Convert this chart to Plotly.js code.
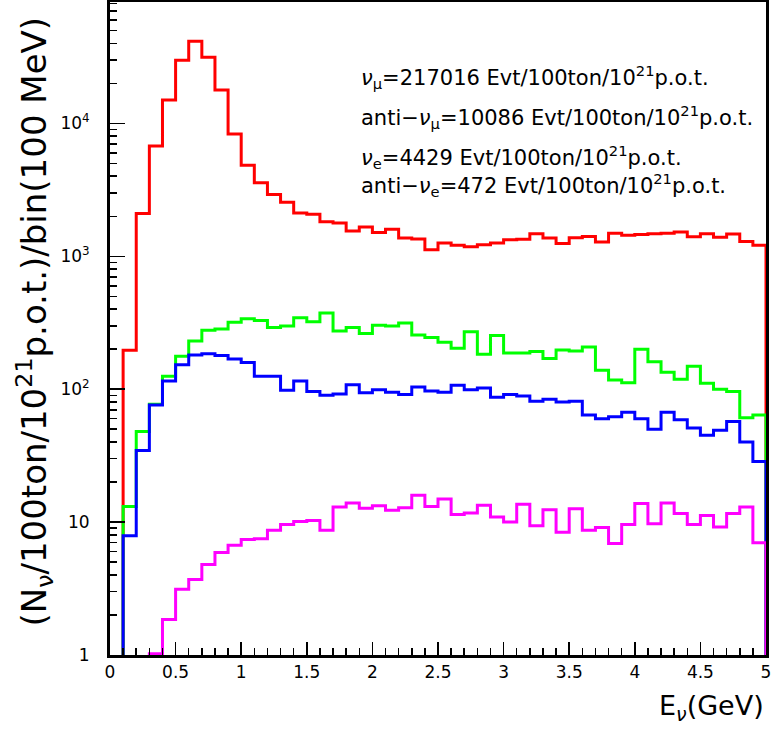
<!DOCTYPE html>
<html>
<head>
<meta charset="utf-8">
<script src="https://cdn.plot.ly/plotly-3.0.1.min.js"></script>
<style>html,body{margin:0;padding:0;background:#fff;}#chart{width:771px;height:731px;}</style>
</head>
<body>
<div id="chart"></div>
<script>
// Bin lower edges (GeV), 100 MeV bins from 0 to 5 GeV
const binWidth = 0.1;
const nBins = 50;

// nu_mu (red)
const numu = [0, 196, 2100, 6750, 14960, 29800, 41400, 31400, 17800, 8300,
  4830, 3570, 2920, 2550, 2120, 2075, 1815, 1780, 1550, 1660,
  1510, 1600, 1370, 1350, 1120, 1260, 1210, 1180, 1220, 1260,
  1330, 1340, 1480, 1370, 1250, 1380, 1410, 1280, 1490, 1440,
  1460, 1480, 1490, 1520, 1400, 1480, 1390, 1470, 1290, 1210];

// anti-nu_mu (green)
const antiNumu = [0, 13.1, 48, 77, 125, 177, 230, 277, 284, 319,
  338, 328, 291, 299, 344, 321, 375, 274, 291, 262,
  303, 299, 315, 256, 245, 225, 203, 270, 183, 253,
  187, 187, 192, 170, 197, 194, 208, 139, 117, 112,
  200, 161, 134, 119, 149, 111, 100, 96, 61, 64];

// nu_e (blue)
const nue = [0, 7.9, 34.5, 76, 115, 153, 181, 185, 179, 169,
  159, 125, 125, 98, 115, 96, 90, 92, 108, 94,
  99, 95, 91, 104, 97, 95, 107, 99, 102, 87,
  91, 89, 81, 84, 80, 81, 64, 60, 62, 67,
  60, 50, 67, 59, 51, 45, 49, 57, 40, 28.6];

// anti-nu_e (magenta)
const antiNue = [0, 0, 0, 1.02, 1.85, 3.13, 3.7, 4.8, 5.9, 6.7,
  7.4, 7.5, 8.7, 9.6, 10.1, 10.3, 8.7, 13.0, 13.9, 12.7,
  13.3, 12.3, 12.8, 15.9, 13.1, 14.9, 11.4, 11.7, 13.4, 10.9,
  10.0, 13.6, 9.4, 12.4, 8.4, 12.6, 8.7, 9.1, 6.9, 9.6,
  13.8, 9.7, 13.9, 11.6, 9.6, 11.2, 9.2, 11.6, 13.0, 7.0];

const xTickVals = [0, 0.5, 1, 1.5, 2, 2.5, 3, 3.5, 4, 4.5, 5];
const xTickText = ["0", "0.5", "1", "1.5", "2", "2.5", "3", "3.5", "4", "4.5", "5"];
const yTickVals = [1, 10, 100, 1000, 10000];
const yTickText = ["1", "10", "10<sup>2</sup>", "10<sup>3</sup>", "10<sup>4</sup>"];

const legendLines = [
  "<i>ν</i><sub>μ</sub>=217016 Evt/100ton/10<sup>21</sup>p.o.t.",
  "anti−<i>ν</i><sub>μ</sub>=10086 Evt/100ton/10<sup>21</sup>p.o.t.",
  "<i>ν</i><sub>e</sub>=4429 Evt/100ton/10<sup>21</sup>p.o.t.",
  "anti−<i>ν</i><sub>e</sub>=472 Evt/100ton/10<sup>21</sup>p.o.t."
];

const FONT = "DejaVu Sans, Liberation Sans, sans-serif";
const FLOOR = 1e-3; // empty bins drawn below the visible range

function stepTrace(vals, color, name) {
  const x = [], y = [];
  for (let k = 0; k < vals.length; k++) {
    x.push(+(k * binWidth).toFixed(3));
    y.push(vals[k] > 0 ? vals[k] : FLOOR);
  }
  x.push(nBins * binWidth); y.push(vals[vals.length - 1] > 0 ? vals[vals.length - 1] : FLOOR);
  x.push(nBins * binWidth); y.push(FLOOR);
  return {x: x, y: y, type: 'scatter', mode: 'lines', name: name,
    line: {shape: 'hv', color: color, width: 3}, hoverinfo: 'skip'};
}

const data = [
  stepTrace(numu, '#ff0000', 'nu_mu'),
  stepTrace(antiNumu, '#00ff00', 'anti-nu_mu'),
  stepTrace(nue, '#0000ff', 'nu_e'),
  stepTrace(antiNue, '#ff00ff', 'anti-nu_e')
];

const minorY = [];
for (let e = 0; e < 5; e++) for (let d = 2; d <= 9; d++) minorY.push(d * Math.pow(10, e));

const legendY = [0.885, 0.824, 0.763, 0.720];
const annotations = legendLines.map((t, i) => ({
  text: t, xref: 'paper', yref: 'paper', x: 0.38, y: legendY[i],
  xanchor: 'left', yanchor: 'middle', showarrow: false,
  font: {family: FONT, size: 21, color: 'black'}
}));
annotations.push({
  text: "(N<sub>ν</sub>/100ton/10<sup>21</sup>p.o.t.)/bin(100 MeV)",
  xref: 'paper', yref: 'paper', x: -0.115, y: 0.51, textangle: -90,
  xanchor: 'center', yanchor: 'middle', showarrow: false,
  font: {family: FONT, size: 34, color: 'black'}
});
annotations.push({
  text: "E<sub><i>ν</i></sub>(GeV)",
  xref: 'paper', yref: 'paper', x: 1.0, y: -0.08,
  xanchor: 'right', yanchor: 'middle', showarrow: false,
  font: {family: FONT, size: 27, color: 'black'}
});

const layout = {
  width: 771, height: 731,
  margin: {l: 110, r: 5, t: 2, b: 76},
  paper_bgcolor: 'white', plot_bgcolor: 'white',
  showlegend: false,
  xaxis: {
    range: [0, 5], tickmode: 'array', tickvals: xTickVals, ticktext: xTickText,
    ticks: 'inside', ticklen: 13, tickwidth: 1.5, tickcolor: 'black',
    showline: true, linewidth: 3, linecolor: 'black', mirror: true,
    showgrid: false, zeroline: false, ticklabeloverflow: 'allow',
    tickfont: {family: FONT, size: 17, color: 'black'},
    minor: {dtick: 0.1, tick0: 0, ticks: 'inside', ticklen: 7, tickwidth: 1.5, tickcolor: 'black', showgrid: false}
  },
  yaxis: {
    type: 'log', range: [0, 4.913],
    tickmode: 'array', tickvals: yTickVals, ticktext: yTickText,
    ticks: 'inside', ticklen: 15, tickwidth: 1.5, tickcolor: 'black',
    showline: true, linewidth: 3, linecolor: 'black', mirror: true,
    showgrid: false, zeroline: false, ticklabelstandoff: 14, ticklabeloverflow: 'allow',
    tickfont: {family: FONT, size: 17, color: 'black'},
    minor: {tickmode: 'array', tickvals: minorY, ticks: 'inside', ticklen: 7, tickwidth: 1.5, tickcolor: 'black', showgrid: false}
  },
  annotations: annotations
};

Plotly.newPlot('chart', data, layout, {staticPlot: true, displayModeBar: false});
</script>
</body>
</html>
